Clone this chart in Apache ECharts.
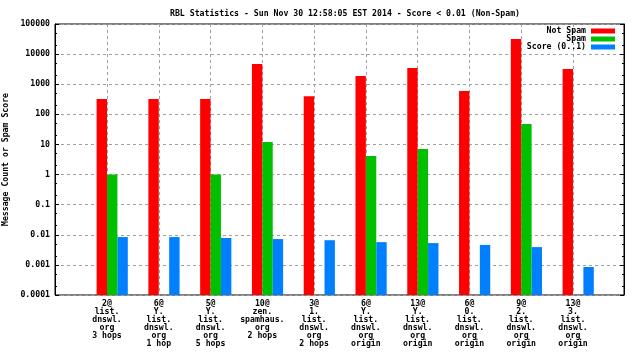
<!DOCTYPE html>
<html>
<head>
<meta charset="utf-8">
<script src="https://cdn.jsdelivr.net/npm/echarts@6/dist/echarts.min.js"></script>
<style>html,body{margin:0;padding:0;background:#fff;}#c{width:640px;height:360px;}</style>
</head>
<body>
<div id="c"></div>
<script>
const titleText = 'RBL Statistics - Sun Nov 30 12:58:05 EST 2014 - Score < 0.01 (Non-Spam)';
const yName = 'Message Count or Spam Score';
const categories = [
  ['2@', 'list.', 'dnswl.', 'org', '3 hops'],
  ['6@', 'Y.', 'list.', 'dnswl.', 'org', '1 hop'],
  ['5@', 'Y.', 'list.', 'dnswl.', 'org', '5 hops'],
  ['10@', 'zen.', 'spamhaus.', 'org', '2 hops'],
  ['3@', '1.', 'list.', 'dnswl.', 'org', '2 hops'],
  ['6@', 'Y.', 'list.', 'dnswl.', 'org', 'origin'],
  ['13@', 'Y.', 'list.', 'dnswl.', 'org', 'origin'],
  ['6@', '0.', 'list.', 'dnswl.', 'org', 'origin'],
  ['9@', '2.', 'list.', 'dnswl.', 'org', 'origin'],
  ['13@', '3.', 'list.', 'dnswl.', 'org', 'origin']
];
const seriesNames = ['Not Spam', 'Spam', 'Score (0..1)'];
const notSpam = [322, 322, 322, 4700, 400, 1870, 3450, 590, 32000, 3200];
const spam = [1, null, 1, 12, null, 4.1, 7, null, 48, null];
const score = [0.0084, 0.0084, 0.0078, 0.0072, 0.0066, 0.0057, 0.0053, 0.0046, 0.0039, 0.00085];
const yMin = 0.0001, yMax = 100000;
const minorTickValues = [];
for (let e = -4; e < 5; e++) { minorTickValues.push(2 * Math.pow(10, e), 5 * Math.pow(10, e)); }

const FONT = 'DejaVu Sans Mono';
const FS = 8.2;
const FW = 'bold';
const colors = ['#ff0000', '#00c000', '#0080ff'];

const chart = echarts.init(document.getElementById('c'), null, {renderer: 'canvas'});
const fmt = v => String(parseFloat(Number(v).toPrecision(6)));
const baseLog = {type: 'log', logBase: 10, min: yMin, max: yMax, interval: 1, startValue: yMin};

chart.setOption({
  animation: false,
  backgroundColor: '#fff',
  title: {
    text: titleText, left: 340, top: 4, textAlign: 'center',
    textStyle: {fontFamily: FONT, fontSize: FS, fontWeight: FW, color: '#000', lineHeight: 9}
  },
  legend: {
    data: seriesNames, orient: 'vertical', align: 'right', right: 25, top: 27,
    itemWidth: 24, itemHeight: 5, itemGap: 0, icon: 'rect', padding: 0,
    textStyle: {fontFamily: FONT, fontSize: FS, fontWeight: FW, color: '#000', lineHeight: 8}
  },
  grid: [
    {left: 55, right: 16, top: 24, bottom: 65, show: true, borderColor: '#000', borderWidth: 1, outerBoundsMode: 'none'},
    {left: 107, right: 67, top: 24, bottom: 65, outerBoundsMode: 'none'}
  ],
  xAxis: [
    {gridIndex: 0, type: 'value', show: false},
    {
      gridIndex: 1, type: 'category', boundaryGap: false,
      data: categories.map(c => c.join('\n')),
      axisLine: {show: false}, axisTick: {show: false},
      axisLabel: {interval: 0, margin: 5, fontFamily: FONT, fontSize: FS, fontWeight: FW, color: '#000', lineHeight: 8, align: 'center', verticalAlign: 'top'},
      splitLine: {show: true, lineStyle: {color: '#a0a0a0', type: [3, 3], width: 1}}
    }
  ],
  yAxis: [
    Object.assign({}, baseLog, {
      gridIndex: 0, position: 'left',
      name: yName, nameLocation: 'middle', nameGap: 42, nameRotate: 90,
      nameTextStyle: {fontFamily: FONT, fontSize: FS, fontWeight: FW, color: '#000'},
      axisLine: {show: true, lineStyle: {color: '#000'}},
      axisTick: {show: true, inside: true, length: 4, lineStyle: {color: '#000'}},
      axisLabel: {formatter: fmt, margin: 5, fontFamily: FONT, fontSize: FS, fontWeight: FW, color: '#000'},
      splitLine: {show: true, lineStyle: {color: '#a0a0a0', type: [3, 3], width: 1}}
    }),
    Object.assign({}, baseLog, {
      gridIndex: 0, position: 'right',
      axisLine: {show: true, lineStyle: {color: '#000'}},
      axisTick: {show: true, inside: true, length: 4, lineStyle: {color: '#000'}},
      axisLabel: {show: false}, splitLine: {show: false}
    }),
    Object.assign({}, baseLog, {
      gridIndex: 0, position: 'left',
      axisLine: {show: false},
      axisTick: {show: true, inside: true, length: 2, customValues: minorTickValues, lineStyle: {color: '#000'}},
      axisLabel: {show: false}, splitLine: {show: false}
    }),
    Object.assign({}, baseLog, {
      gridIndex: 0, position: 'right',
      axisLine: {show: false},
      axisTick: {show: true, inside: true, length: 2, customValues: minorTickValues, lineStyle: {color: '#000'}},
      axisLabel: {show: false}, splitLine: {show: false}
    }),
    Object.assign({}, baseLog, {gridIndex: 1, show: false})
  ],
  series: [
    {type: 'bar', name: '', xAxisIndex: 1, yAxisIndex: 4, data: [], barWidth: 10.4, barGap: '0%', clip: false},
    {type: 'bar', name: seriesNames[0], xAxisIndex: 1, yAxisIndex: 4, data: notSpam, barWidth: 10.4, barGap: '0%', clip: false, itemStyle: {color: colors[0]}},
    {type: 'bar', name: seriesNames[1], xAxisIndex: 1, yAxisIndex: 4, data: spam, barWidth: 10.4, barGap: '0%', clip: false, itemStyle: {color: colors[1]}},
    {type: 'bar', name: seriesNames[2], xAxisIndex: 1, yAxisIndex: 4, data: score, barWidth: 10.4, barGap: '0%', clip: false, itemStyle: {color: colors[2]}}
  ]
});
</script>
</body>
</html>
